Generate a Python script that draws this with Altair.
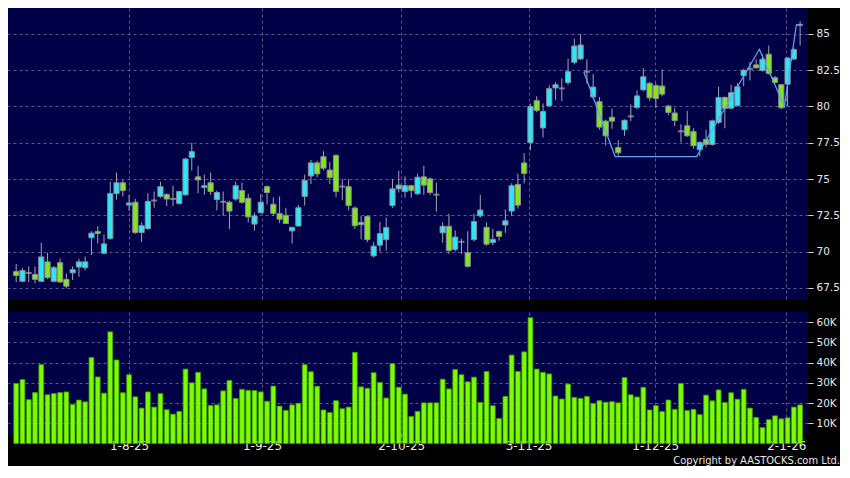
import altair as alt
import pandas as pd

# ---- data ----
opens = [68.62, 67.95, 68.50, 68.42, 67.95, 69.29, 67.95, 69.23, 68.08, 68.53,
         68.93, 68.89, 70.95, 71.38, 69.88, 70.89, 74.00, 74.74, 73.20, 73.40,
         71.31, 71.58, 73.50, 73.80, 73.94, 73.61, 73.31, 73.91, 76.49, 75.15,
         74.41, 74.74, 73.58, 73.41, 73.40, 73.62, 74.20, 73.67, 71.89, 72.68,
         74.47, 73.26, 72.61, 72.50, 71.42, 71.76, 73.80, 75.21, 76.11, 76.54,
         75.62, 76.63, 74.46, 74.47, 73.00, 71.85, 72.41, 69.70, 70.44, 70.82,
         73.17, 74.32, 74.14, 74.54, 73.98, 75.15, 75.01, 73.90, 71.29, 71.74,
         70.15, 70.65, 69.92, 70.82, 72.46, 71.67, 70.62, 71.38, 71.83, 72.79,
         74.63, 76.11, 77.51, 80.40, 78.52, 80.04, 81.28, 81.22, 81.64, 83.05,
         83.28, 82.35, 80.66, 80.33, 78.99, 79.26, 77.17, 78.40, 79.30, 79.93,
         81.15, 81.60, 81.44, 81.41, 80.03, 79.55, 78.27, 78.67, 78.27, 77.02,
         77.73, 77.38, 78.90, 80.62, 79.88, 80.06, 82.12, 82.57, 82.87, 82.48,
         83.60, 81.98, 81.50, 81.54, 83.27, 85.61]
highs = [69.14, 68.87, 68.98, 68.98, 70.60, 69.92, 69.00, 69.52, 68.49, 68.98,
         69.50, 69.65, 71.40, 71.74, 71.18, 74.81, 75.44, 74.92, 73.91, 73.62,
         72.01, 74.02, 74.14, 74.81, 74.00, 74.54, 74.20, 76.45, 77.50, 75.89,
         75.30, 75.44, 74.20, 74.14, 73.50, 74.81, 74.76, 73.98, 72.68, 73.98,
         74.55, 73.73, 73.80, 73.02, 71.70, 73.20, 75.30, 76.31, 76.25, 76.92,
         76.16, 76.70, 74.99, 74.99, 73.10, 72.46, 72.50, 70.66, 72.05, 72.34,
         74.97, 75.57, 75.19, 74.60, 75.37, 75.91, 75.10, 74.76, 72.01, 72.61,
         71.45, 70.88, 71.40, 72.61, 73.91, 72.01, 71.56, 71.45, 72.90, 74.70,
         75.37, 76.78, 80.20, 80.70, 80.21, 81.45, 81.68, 81.94, 83.30, 84.66,
         85.00, 83.25, 82.23, 80.66, 79.10, 79.86, 77.68, 79.10, 80.15, 81.10,
         82.65, 81.70, 81.60, 82.55, 80.10, 79.89, 78.77, 79.70, 78.50, 77.60,
         78.40, 79.10, 81.36, 80.70, 81.49, 81.60, 82.60, 83.07, 83.25, 83.60,
         84.20, 82.10, 81.55, 83.40, 84.05, 85.88]
lows = [67.90, 67.90, 67.90, 67.81, 67.90, 68.10, 67.90, 67.85, 67.46, 68.04,
        68.26, 68.69, 69.76, 70.55, 69.81, 70.82, 73.58, 73.80, 72.79, 71.22,
        70.66, 71.50, 73.02, 73.70, 73.13, 73.13, 73.24, 73.85, 75.59, 74.02,
        73.91, 73.91, 72.84, 72.46, 71.56, 73.50, 73.30, 72.01, 71.45, 72.60,
        73.24, 72.46, 71.96, 71.90, 70.55, 71.70, 73.17, 74.65, 75.12, 75.60,
        74.65, 73.76, 73.53, 72.84, 71.56, 70.84, 70.66, 69.60, 69.99, 70.06,
        73.02, 74.07, 73.71, 73.71, 73.90, 73.91, 73.91, 72.75, 70.60, 69.83,
        70.00, 69.83, 68.90, 70.70, 72.34, 70.40, 70.44, 70.75, 71.29, 72.46,
        72.97, 74.70, 76.97, 79.60, 77.85, 79.95, 80.45, 80.37, 81.50, 82.90,
        83.20, 81.57, 80.50, 78.40, 77.31, 78.47, 76.60, 77.98, 78.99, 79.80,
        81.05, 80.40, 79.89, 80.70, 79.41, 78.65, 77.53, 77.90, 77.10, 76.57,
        77.20, 77.30, 78.80, 78.50, 79.80, 80.00, 81.40, 81.79, 82.60, 82.40,
        82.20, 81.60, 79.81, 80.02, 83.20, 84.20]
closes = [68.35, 68.69, 68.52, 68.08, 69.63, 68.20, 68.89, 67.90, 67.61, 68.75,
          69.29, 69.29, 71.27, 71.25, 70.53, 74.00, 74.74, 74.20, 73.35, 71.31,
          71.78, 73.46, 73.52, 74.47, 73.62, 73.63, 74.14, 76.38, 76.89, 74.94,
          74.54, 74.14, 74.07, 73.43, 72.79, 74.54, 73.40, 72.39, 72.46, 73.40,
          74.07, 72.63, 72.23, 71.94, 71.67, 73.02, 74.90, 76.11, 75.35, 75.75,
          75.10, 74.14, 74.48, 73.17, 71.78, 72.01, 70.82, 70.37, 71.24, 71.65,
          74.32, 74.58, 74.54, 74.20, 75.12, 74.58, 74.07, 73.92, 71.74, 70.06,
          71.00, 70.67, 68.98, 72.07, 72.86, 70.51, 70.84, 71.04, 72.12, 74.54,
          73.20, 75.39, 80.00, 79.73, 79.66, 81.23, 81.50, 81.25, 82.40, 84.17,
          84.24, 82.40, 81.34, 78.58, 77.98, 78.99, 76.81, 79.05, 79.32, 80.73,
          82.05, 80.60, 80.55, 80.85, 79.59, 79.03, 78.29, 77.98, 77.30, 77.52,
          77.39, 79.01, 80.62, 79.86, 80.95, 81.36, 82.50, 82.60, 82.67, 83.26,
          82.28, 81.66, 79.91, 83.34, 83.93, 85.63]
volumes_k = [29.7, 31.6, 21.7, 25.2, 39.0, 24.1, 24.7, 25.2, 25.5, 19.3,
             21.5, 20.6, 42.5, 32.9, 24.9, 55.2, 41.3, 25.1, 34.0, 23.1,
             17.5, 25.5, 18.0, 24.7, 16.7, 14.5, 15.9, 36.8, 30.0, 35.2,
             27.0, 18.8, 19.1, 26.0, 31.2, 22.3, 26.8, 26.3, 26.2, 25.5,
             20.9, 28.4, 18.5, 16.4, 19.1, 19.9, 39.0, 35.5, 28.3, 16.6,
             15.3, 21.2, 17.2, 18.0, 45.1, 28.0, 27.3, 35.0, 30.2, 22.5,
             39.5, 27.8, 24.4, 13.4, 15.9, 20.1, 20.1, 20.1, 31.8, 27.0,
             36.6, 34.0, 30.5, 32.8, 20.3, 35.6, 18.7, 12.4, 23.3, 43.7,
             35.6, 45.3, 62.2, 36.8, 35.2, 34.4, 23.5, 22.0, 29.4, 22.8,
             22.3, 23.3, 19.8, 21.2, 20.4, 20.7, 20.1, 32.6, 24.1, 23.0,
             27.8, 16.6, 18.7, 15.8, 21.5, 16.9, 29.7, 16.3, 16.9, 14.3,
             23.9, 21.1, 26.5, 20.3, 25.1, 21.9, 26.8, 17.5, 12.9, 7.9,
             11.8, 13.7, 12.2, 12.7, 18.0, 19.1]

# trading-day positions of the dated gridlines, and their labels
date_ticks = [18.0, 39.2, 61.4, 81.7, 101.9, 122.8]
date_labels = ["1-8-25", "1-9-25", "2-10-25", "3-11-25", "1-12-25", "2-1-26"]

# light-blue trend line overlay
line_idx = [90.5, 95.5, 108.5, 118.5, 122.5, 124.4, 125.3]
line_val = [82.4, 76.55, 76.55, 83.95, 80.0, 85.62, 85.62]

price_ticks = [67.5, 70, 72.5, 75, 77.5, 80, 82.5, 85]
vol_ticks = [10000, 20000, 30000, 40000, 50000, 60000]
copyright_text = "Copyright by AASTOCKS.com Ltd."

# ---- build tables ----
n = len(closes)
dirs = []
for o, c in zip(opens, closes):
    if abs(c - o) < 0.06:
        dirs.append("flat")
    elif c > o:
        dirs.append("up")
    else:
        dirs.append("down")

df = pd.DataFrame({
    "i": list(range(n)),
    "open": opens, "high": highs, "low": lows, "close": closes,
    "vol": [v * 1000 for v in volumes_k],
    "dir": dirs,
})
line_df = pd.DataFrame({"i": line_idx, "v": line_val})

label_expr = ""
for t, lab in zip(date_ticks, date_labels):
    label_expr += f"datum.value == {t} ? '{lab}' : "
label_expr += "''"

# ---- styling ----
W, H1, H2 = 800, 292, 121
NAVY = "#000046"
GRID = "#5a5a90"
CYAN = "#2ee6f4"
GREEN = "#82e622"
LABEL = "#e8e8e8"
FONT = "DejaVu Sans"

xscale = alt.Scale(domain=[-0.51, 125.46], nice=False, zero=False)
pscale = alt.Scale(domain=[66.66, 86.79], nice=False, zero=False)
vscale = alt.Scale(domain=[5200, 65000], nice=False, zero=False)

x_grid_axis = alt.Axis(values=date_ticks, grid=True, labels=False, ticks=False,
                       domain=False, title=None)

base = alt.Chart(df).encode(x=alt.X("i:Q", scale=xscale, axis=x_grid_axis))

wick = base.mark_rule(color="#a4a4b4", strokeWidth=1).encode(
    y=alt.Y("low:Q", scale=pscale,
            axis=alt.Axis(orient="right", values=price_ticks,
                          labelExpr="'' + datum.value",
                          grid=True, domain=False, tickSize=5, labelPadding=3,
                          labelFontSize=10.5, title=None)),
    y2="high:Q",
)
body = base.transform_filter("datum.dir != 'flat'").mark_bar(
    size=5.2, stroke="#8c8c9c", strokeWidth=1
).encode(
    y="open:Q", y2="close:Q",
    color=alt.Color("dir:N", scale=alt.Scale(domain=["up", "down"], range=[CYAN, GREEN]),
                    legend=None),
)
doji = base.transform_filter("datum.dir == 'flat'").mark_tick(
    orient="horizontal", thickness=2, size=6, color="#a8a8a8"
).encode(y="close:Q")

trend = alt.Chart(line_df).mark_line(color="#5aa8f8", strokeWidth=1.2).encode(
    x=alt.X("i:Q", scale=xscale), y=alt.Y("v:Q", scale=pscale))

price = alt.layer(wick, body, doji, trend).properties(width=W, height=H1)

vbars = alt.Chart(df).mark_bar(size=4.8, color="#7cfc00", stroke="#3f9a00",
                               strokeWidth=0.8).encode(
    x=alt.X("i:Q", scale=xscale,
            axis=alt.Axis(values=date_ticks, labelExpr=label_expr, grid=True,
                          ticks=True, tickSize=4, domain=False, labelFontSize=12,
                          labelPadding=3, title=None)),
    y=alt.Y("vol:Q", scale=vscale,
            axis=alt.Axis(orient="right", values=vol_ticks,
                          labelExpr="(datum.value / 1000) + 'K'", grid=True,
                          domain=False, tickSize=5, labelPadding=3,
                          labelFontSize=10.5, title=None)),
    y2=alt.value(H2),
)
copy = alt.Chart(pd.DataFrame({"t": [copyright_text]})).mark_text(
    align="right", baseline="alphabetic", fontSize=11, color=LABEL,
    font="DejaVu Sans Condensed, Liberation Sans Narrow, DejaVu Sans"
).encode(x=alt.value(W + 32), y=alt.value(H2 + 31), text="t:N")

volume = alt.layer(vbars, copy).properties(width=W, height=H2)

chart = alt.vconcat(price, volume, spacing=12).properties(
    padding=0, background="black"
).configure_view(fill=NAVY, strokeWidth=0).configure_axis(
    gridColor=GRID, gridDash=[3, 3], gridWidth=1, labelColor=LABEL,
    labelFont=FONT, tickColor="#d0d0d0"
)

chart.save("out.html", embed_options={"renderer": "svg", "actions": False})
